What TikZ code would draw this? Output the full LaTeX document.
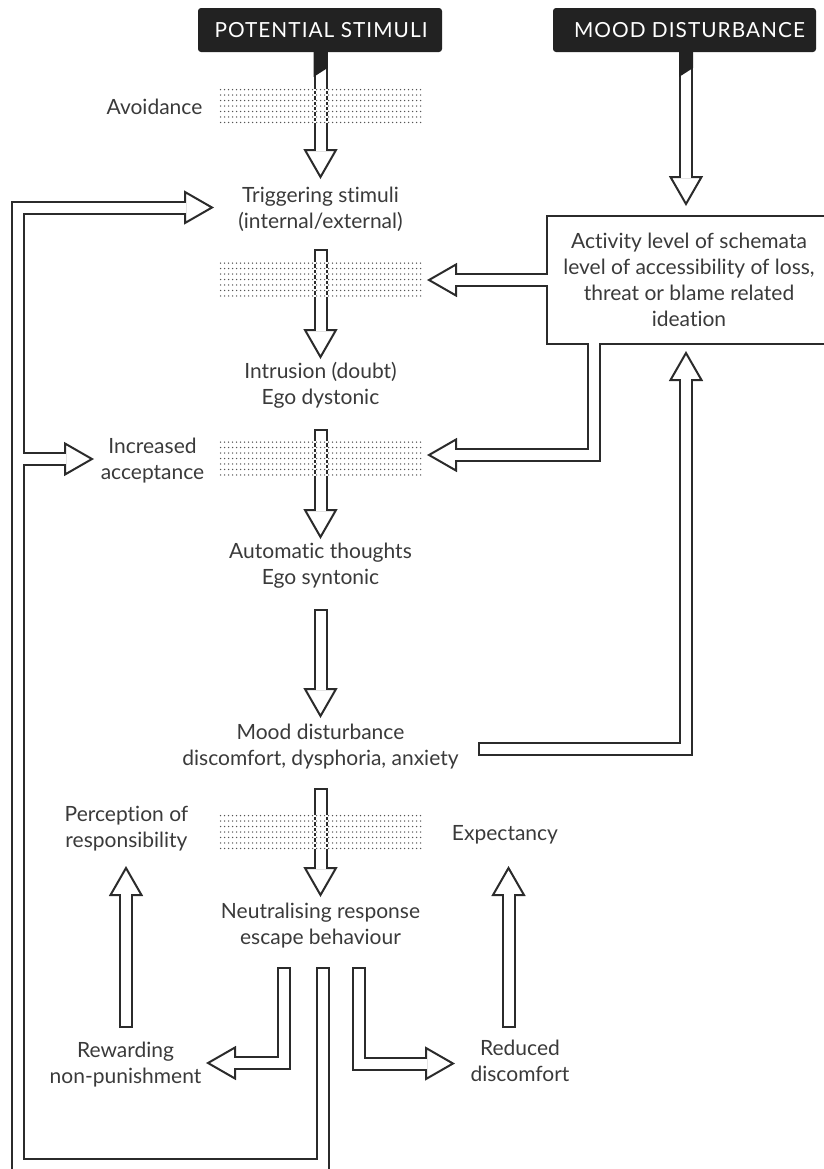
\documentclass[tikz,border=0pt]{standalone}
\usepackage{fontspec}
\setmainfont[Ligatures=NoCommon]{Lato}
\newfontfamily\hdrfont[LetterSpace=5,Ligatures=NoCommon]{Lato}
\usetikzlibrary{calc}
\definecolor{ink}{HTML}{2B2B2B}
\definecolor{txt}{HTML}{3A3A3A}
\definecolor{hdrbg}{HTML}{222222}
\definecolor{dotc}{HTML}{555555}
\newcommand\tip[2]{\draw[tip, shift={#1}, rotate=#2] (0,0) -- (-27,-15.5) -- (-27,15.5) -- cycle;}

\begin{document}
\begin{tikzpicture}[x=0.5pt, y=-0.5pt,
  lbl/.style={text=txt, align=center, inner sep=0pt, font=\fontsize{10.5}{13}\selectfont},
  hdr/.style={fill=hdrbg, rounded corners=1.5pt, text=white, inner sep=0pt, minimum height=22pt, font=\hdrfont\fontsize{10.4}{12}\selectfont},
  band/.style={minimum width=101pt, minimum height=16pt, inner sep=0pt},
  pipe/.style={draw=ink, line width=7pt, line join=miter, shorten >=13.5pt},
  pipein/.style={draw=white, line width=5pt, line join=miter, shorten >=12.8pt, shorten <=1pt},
  tip/.style={draw=ink, fill=white, line width=1pt, line join=miter},
  dots/.style={dotc, line width=0.75pt, line cap=round, dash pattern=on 0pt off 2pt}]

  \useasboundingbox (0,0) rectangle (824,1169);
  \clip (0,0) rectangle (824,1169);

  \node[lbl] (avoid) at (154.5,107) {Avoidance};
  \node[lbl] (trig) at (320.5,209.5) {Triggering stimuli\\(internal/external)};
  \node[lbl] (intr) at (320.5,385.5) {Intrusion (doubt)\\Ego dystonic};
  \node[lbl] (acc) at (152.5,461) {Increased\\acceptance};
  \node[lbl] (auto) at (320.5,566) {Automatic thoughts\\Ego syntonic};
  \node[lbl] (mood) at (320.5,747) {Mood disturbance\\discomfort, dysphoria, anxiety};
  \node[lbl] (resp) at (126.5,829) {Perception of\\responsibility};
  \node[lbl] (expt) at (505,835) {Expectancy};
  \node[lbl] (neut) at (320.5,925.5) {Neutralising response\\escape behaviour};
  \node[lbl] (rew) at (125.5,1064.5) {Rewarding\\non-punishment};
  \node[lbl] (red) at (520,1061) {Reduced\\discomfort};
  \node[lbl, draw=ink, line width=1pt, minimum width=142pt, minimum height=64pt] (schema) at (689,280)
    {Activity level of schemata\\level of accessibility of loss,\\threat or blame related\\ideation};

  \node[band] (g1) at (322,106) {};
  \node[band] (g2) at (322,279.5) {};
  \node[band] (g3) at (322,458.5) {};
  \node[band] (g4) at (322,832) {};

  \foreach \n/\x/\y in {ps1/320.5/50, ps2/320.5/177, tr1/320.5/249, tr2/320.5/357,
      in1/320.5/429, in2/320.5/537, au1/320.5/609, au2/320.5/716, mo1/320.5/788, mo2/320.5/895,
      md1/686/50, md2/686/204, bk1/478/748.5, bk2/686/748.5, bk3/686/353,
      sc1/548/280, sc2/429/280, sc3/593.5/343, sc4/593.5/455, sc5/429/455,
      nl1/284/967, nl2/284/1063, nl3/208/1063, nr1/359/967, nr2/359/1063.5, nr3/453/1063.5,
      lp1/322.5/967, lp2/322.5/1164.5, lp3/17.5/1164.5, lp4/17.5/207.5, lp5/212/207.5,
      lp6/17.5/459, lp7/92/459, rw1/126/1028, rw2/126/868, rd1/508.5/1028, rd2/508.5/868}
    \coordinate (\n) at (\x,\y);

  \foreach \p in {{(ps1)--(ps2)}, {(tr1)--(tr2)}, {(in1)--(in2)}, {(au1)--(au2)}, {(mo1)--(mo2)},
      {(md1)--(md2)}, {(bk1)--(bk2)--(bk3)}, {(sc1)--(sc2)}, {(sc3)--(sc4)--(sc5)},
      {(nl1)--(nl2)--(nl3)}, {(nr1)--(nr2)--(nr3)}, {(lp1)--(lp2)--(lp3)--(lp4)--(lp5)},
      {(lp6)--(lp7)}, {(rw1)--(rw2)}, {(rd1)--(rd2)}}
    \draw[pipe] \p;

  \foreach \c/\a in {ps2/-90, tr2/-90, in2/-90, au2/-90, mo2/-90, md2/-90, bk3/90, sc2/180, sc5/180,
      nl3/180, nr3/0, lp5/0, lp7/0, rw2/90, rd2/90}
    \tip{(\c)}{\a};

  \foreach \p in {{(ps1)--(ps2)}, {(tr1)--(tr2)}, {(in1)--(in2)}, {(au1)--(au2)}, {(mo1)--(mo2)},
      {(md1)--(md2)}, {(bk1)--(bk2)--(bk3)}, {(nl1)--(nl2)--(nl3)}, {(nr1)--(nr2)--(nr3)},
      {(lp1)--(lp2)--(lp3)--(lp4)--(lp5)}, {(rw1)--(rw2)}, {(rd1)--(rd2)}}
    \draw[pipein] \p;
  \foreach \p in {{(sc1)--(sc2)}, {(sc3)--(sc4)--(sc5)}, {(lp6)--(lp7)}}
    \draw[pipein, shorten <=0pt] \p;

  \node[hdr, minimum width=122pt] (ps) at (320,30) {\hspace*{1pt}POTENTIAL STIMULI};
  \node[hdr, minimum width=131.5pt] (md) at (684.5,30) {\hspace*{5pt}MOOD DISTURBANCE};
  \foreach \x in {320.5,686}
    \fill[hdrbg] (\x-7,50) -- (\x+7,50) -- (\x+7,68) -- (\x-7,77) -- cycle;

  \foreach \g in {g1,g2,g3,g4}
    \foreach \k in {0,...,6}{
      \draw[white, line width=1pt] ($(\g.north west)!\k/6!(\g.south west)$) -- ($(\g.north east)!\k/6!(\g.south east)$);
      \draw[dots] ($(\g.north west)!\k/6!(\g.south west)$) -- ($(\g.north east)!\k/6!(\g.south east)$);
    }
\end{tikzpicture}
\end{document}
